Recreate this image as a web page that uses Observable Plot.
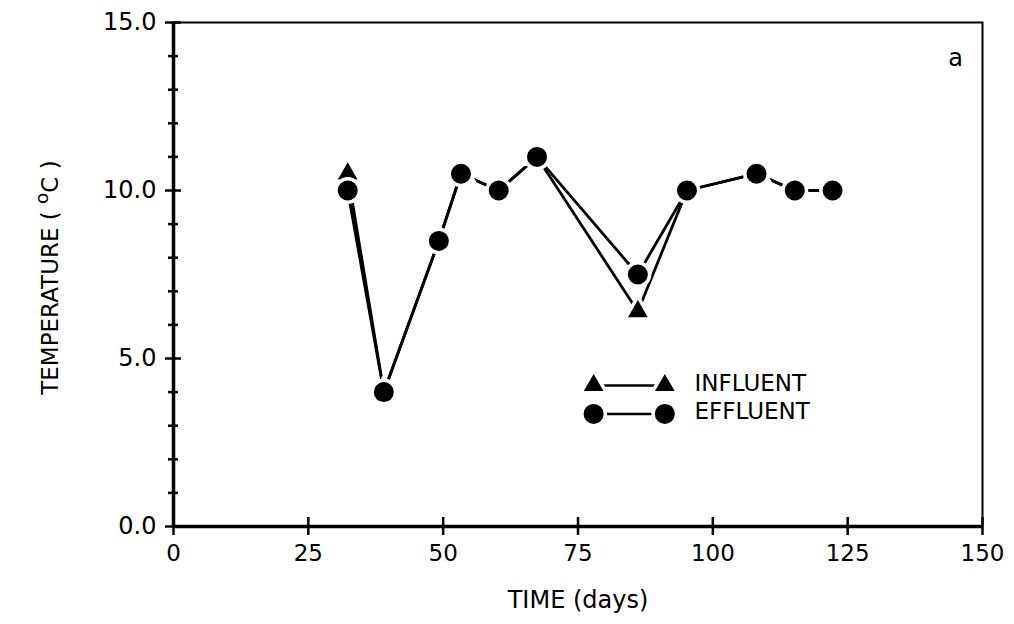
<!DOCTYPE html>
<html><head><meta charset="utf-8">
<script src="https://cdn.jsdelivr.net/npm/d3@7"></script>
<script src="https://cdn.jsdelivr.net/npm/@observablehq/plot@0.6"></script>
<style>body{margin:0;background:#fff} #chart{width:1014px;height:624px}</style>
</head><body><div id="chart"></div>
<script>
// ---- data ----
const days     = [32.3, 39.0, 49.2, 53.3, 60.3, 67.4, 86.1, 95.2, 108.1, 115.2, 122.2];
const influent = [10.5, 4.0, 8.5, 10.5, 10.0, 11.0, 6.4, 10.0, 10.5, 10.0, 10.0];
const effluent = [10.0, 4.0, 8.5, 10.5, 10.0, 11.0, 7.5, 10.0, 10.5, 10.0, 10.0];
const xTicks = [0, 25, 50, 75, 100, 125, 150];
const yMajor = [0, 5, 10, 15];
const yMinor = [1, 2, 3, 4, 6, 7, 8, 9, 11, 12, 13, 14];
const legendLabels = ["INFLUENT", "EFFLUENT"];
const legendSymbols = ["triangle", "circle"];
const xLabel = "TIME (days)";
const yLabelParts = ["TEMPERATURE (", "o", "C)"];
const panelTag = "a";

// ---- layout constants for the in-plot legend (data units) ----
const LX0 = 77.9, LX1 = 91.1, LXT = 96.6, LY = [4.2, 3.35];

const inf = days.map((d, i) => ({day: d, temp: influent[i]}));
const eff = days.map((d, i) => ({day: d, temp: effluent[i]}));
const leg = legendLabels.map((l, i) => ({label: l, symbol: legendSymbols[i], y: LY[i]}));
const legPts = leg.flatMap(d => [{...d, x: LX0}, {...d, x: LX1}]);

const font = "DejaVu Sans";
const halo = {fill: "black", stroke: "white", strokeWidth: 7, paintOrder: "stroke"};
const sym = d => d.symbol;

const plot = Plot.plot({
  width: 1014, height: 624,
  marginLeft: 173, marginRight: 32, marginTop: 22, marginBottom: 98,
  style: {fontFamily: font, background: "white", color: "black", overflow: "visible"},
  x: {domain: [0, 150]},
  y: {domain: [0, 15]},
  symbol: {domain: ["triangle", "circle"], range: ["triangle", "circle"]},
  marks: [
    Plot.frame({strokeWidth: 2}),
    Plot.ruleY([0], {strokeWidth: 3.5}),
    Plot.ruleX([0], {strokeWidth: 3.5}),
    Plot.ruleX(xTicks, {x: d => d, y1: 0, y2: 0, insetTop: -9, insetBottom: -9, strokeWidth: 2.5}),
    Plot.ruleY(yMinor, {y: d => d, x1: 0, x2: 0, insetLeft: -5, insetRight: -5, strokeWidth: 2.5}),
    Plot.ruleY(yMajor, {y: d => d, x1: 0, x2: 0, insetLeft: -8, insetRight: -8, strokeWidth: 2.5}),
    Plot.axisX({ticks: xTicks, tickSize: 0, tickPadding: 18, fontSize: 23, label: null, tickFormat: d => String(d)}),
    Plot.axisY({ticks: yMajor, tickSize: 0, tickPadding: 17, fontSize: 24, label: null, tickFormat: d3.format(".1f")}),
    Plot.line(inf, {x: "day", y: "temp", strokeWidth: 2.8}),
    Plot.line(eff, {x: "day", y: "temp", strokeWidth: 2.8}),
    Plot.dot(inf, {x: "day", y: "temp", symbol: () => "triangle", r: 7.3, ...halo}),
    Plot.dot(eff, {x: "day", y: "temp", symbol: () => "circle", r: 10, ...halo}),
    // legend
    Plot.link(leg, {x1: LX0, x2: LX1, y1: "y", y2: "y", strokeWidth: 2.5}),
    Plot.dot(legPts.filter(d => d.symbol === "triangle"), {x: "x", y: "y", symbol: sym, r: 7.3, ...halo}),
    Plot.dot(legPts.filter(d => d.symbol === "circle"), {x: "x", y: "y", symbol: sym, r: 10, ...halo}),
    Plot.text(leg, {x: LXT, y: "y", text: "label", textAnchor: "start", fontSize: 23, dy: -2}),
    // titles
    Plot.text([panelTag], {frameAnchor: "top-right", dx: -27, dy: 36, lineAnchor: "middle", textAnchor: "middle", fontSize: 24}),
    Plot.text([xLabel], {frameAnchor: "bottom", dy: 74, lineAnchor: "middle", textAnchor: "middle", fontSize: 24}),
    Plot.text([yLabelParts.join("")], {frameAnchor: "left", dx: -123, dy: 3, rotate: -90, lineAnchor: "middle", textAnchor: "middle", fontSize: 23, className: "ylab"})
  ]
});
document.getElementById("chart").append(plot);

// raised "o" in the y-axis title, as in the reference
const yt = d3.select(plot).select(".ylab text");
yt.text(null);
yt.append("tspan").text(yLabelParts[0] + " ");
yt.append("tspan").attr("dy", "-0.55em").attr("font-size", "0.8em").text(yLabelParts[1]);
yt.append("tspan").attr("dy", "0.45em").text(yLabelParts[2].replace("C", "C "));
</script>
</body></html>
